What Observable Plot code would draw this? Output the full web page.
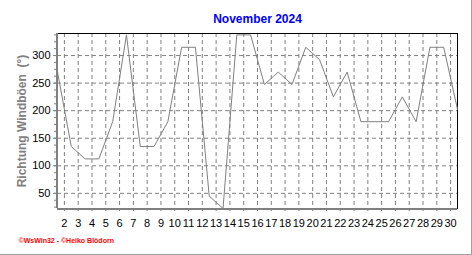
<!DOCTYPE html>
<html>
<head>
<meta charset="utf-8">
<script src="https://cdn.jsdelivr.net/npm/d3@7"></script>
<script src="https://cdn.jsdelivr.net/npm/@observablehq/plot@0.6"></script>
<style>
  body { margin: 0; background: white; }
  #wrap { position: relative; width: 472px; height: 255px; }
  #edge { position: absolute; left: 0; top: 0; width: 471px; height: 254px;
          border-right: 1px solid #a0a0a0; border-bottom: 1px solid #a0a0a0; pointer-events: none; }
</style>
</head>
<body>
<div id="wrap"><div id="edge"></div></div>
<script>
const title = "November 2024";
const yLabel = "Richtung Windböen  (°)";
const footer = "©WsWin32 - ©Heiko Blödorn";
const days = [1,2,3,4,5,6,7,8,9,10,11,12,13,14,15,16,17,18,19,20,21,22,23,24,25,26,27,28,29,30];
const directions = [270,135,112.5,112.5,180,337.5,135,135,180,315,315,45,22.5,337.5,337.5,247.5,270,247.5,315,292.5,225,270,180,180,180,225,180,315,315,202.5];
const yTicks = [50,100,150,200,250,300];
const xTickDays = [2,3,4,5,6,7,8,9,10,11,12,13,14,15,16,17,18,19,20,21,22,23,24,25,26,27,28,29,30];

const data = days.map((d, i) => ({date: new Date(Date.UTC(2024, 10, d, 12)), value: directions[i]}));
const xTicks = xTickDays.map(d => new Date(Date.UTC(2024, 10, d)));
const xDomain = [data[0].date, data[data.length - 1].date];
const yDomain = [22.5, 340];
const minorX = d3.utcHour.every(6).range(xDomain[0], xDomain[1]);
const minorY = d3.range(25, 340, 12.5);
const gray = "#808080";

const chart = Plot.plot({
  width: 472,
  height: 255,
  marginLeft: 57,
  marginRight: 15,
  marginTop: 33,
  marginBottom: 47,
  style: {fontFamily: "'Liberation Sans', Arial, sans-serif", fontSize: "11px", color: "black"},
  x: {type: "utc", domain: xDomain},
  y: {domain: yDomain},
  marks: [
    Plot.gridY(yTicks, {stroke: gray, strokeOpacity: 1, strokeDasharray: "4,3"}),
    Plot.gridX(xTicks, {stroke: gray, strokeOpacity: 1, strokeDasharray: "4,3"}),
    Plot.frame({stroke: "black"}),
    Plot.axisX(minorX, {tickSize: 2, text: null, stroke: gray, label: null}),
    Plot.axisX(xTicks, {tickSize: 3, tickPadding: 8, stroke: gray, fill: "black", tickFormat: d => d.getUTCDate(), label: null}),
    Plot.axisY(minorY, {tickSize: 3, text: null, stroke: gray, label: null}),
    Plot.axisY(yTicks, {tickSize: 4, tickPadding: 3, stroke: gray, fill: "black", label: null}),
    Plot.ruleX([xDomain[0]], {stroke: gray, strokeWidth: 2, dx: -0.5}),
    Plot.ruleY([yDomain[0]], {stroke: gray, strokeWidth: 2, dy: 0.5}),
    Plot.line(data, {x: "date", y: "value", stroke: gray, strokeWidth: 1}),
    Plot.text([yLabel], {frameAnchor: "left", rotate: -90, dx: -35, textAnchor: "middle", lineAnchor: "middle", fill: gray, fontWeight: "bold", fontSize: 12}),
    Plot.text([title], {frameAnchor: "top", dy: -14.5, textAnchor: "middle", lineAnchor: "middle", fill: "#0000ff", fontWeight: "bold", fontSize: 12}),
    Plot.text([footer], {frameAnchor: "bottom-left", dx: -39, dy: 32.5, lineAnchor: "middle", textAnchor: "start", fill: "#ff0000", fontWeight: "bold", fontSize: 7})
  ]
});
document.getElementById("wrap").prepend(chart);
</script>
</body>
</html>
